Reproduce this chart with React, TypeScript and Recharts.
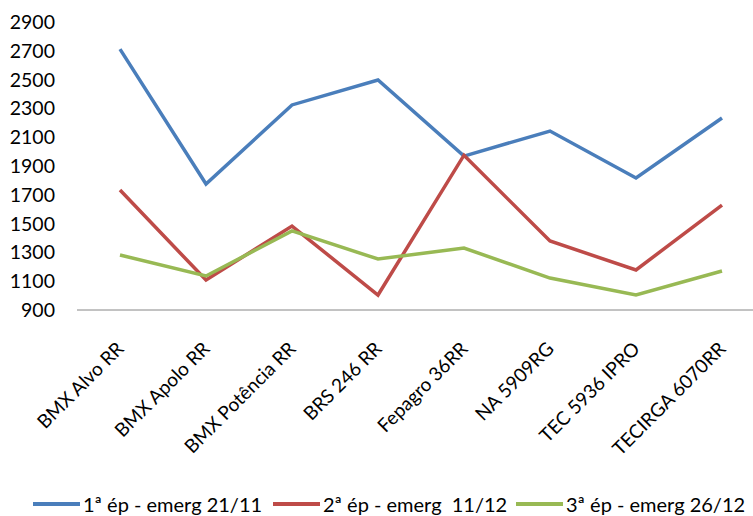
import React from "react";
import { LineChart, Line, XAxis, YAxis, Legend } from "recharts";

const categories = [
  "BMX Alvo RR",
  "BMX Apolo RR",
  "BMX Potência RR",
  "BRS 246 RR",
  "Fepagro 36RR",
  "NA 5909RG",
  "TEC 5936 IPRO",
  "TECIRGA 6070RR",
];
const serie1 = [2712, 1775, 2324, 2497, 1969, 2143, 1817, 2233];
const serie2 = [1733, 1108, 1483, 1004, 1975, 1379, 1178, 1629];
const serie3 = [1282, 1136, 1449, 1254, 1330, 1122, 1004, 1171];
const yTicks = [900, 1100, 1300, 1500, 1700, 1900, 2100, 2300, 2500, 2700, 2900];
const seriesNames = [
  "1ª ép - emerg 21/11",
  "2ª ép - emerg  11/12",
  "3ª ép - emerg 26/12",
];
const colors = ["#4A7EBB", "#BE4B48", "#98B954"];
const legendLineX = [33, 273, 516];

const data = categories.map((c, i) => ({
  name: c,
  s1: serie1[i],
  s2: serie2[i],
  s3: serie3[i],
}));

const FONT = "Lato, 'Open Sans', sans-serif";

const XTick = (props: any) => {
  const { x, y, payload } = props;
  const ax = x + 5;
  const ay = y + 38;
  return (
    <text
      x={ax}
      y={ay}
      textAnchor="end"
      transform={`rotate(-45, ${ax}, ${ay})`}
      fontSize={19}
      fontFamily={FONT}
      fill="#000"
    >
      {payload.value}
    </text>
  );
};

const LegendContent = () => (
  <div
    style={{
      position: "relative",
      width: 753,
      height: 24,
      fontFamily: FONT,
      fontSize: 20,
      lineHeight: "24px",
      color: "#000",
      whiteSpace: "pre",
    }}
  >
    {seriesNames.map((n, i) => (
      <div
        key={n}
        style={{
          position: "absolute",
          left: legendLineX[i],
          top: 0,
          display: "flex",
          alignItems: "center",
          height: 24,
        }}
      >
        <div style={{ width: 47, height: 4, background: colors[i], marginRight: 3 }} />
        <span>{n}</span>
      </div>
    ))}
  </div>
);

export default function App() {
  return (
    <div
      style={{
        position: "absolute",
        left: 0,
        top: 0,
        width: 753,
        height: 516,
        overflow: "hidden",
        background: "#fff",
      }}
    >
      <LineChart
        width={780}
        height={516}
        data={data}
        margin={{ top: 22, right: 15, left: 0, bottom: 0 }}
      >
        <XAxis
          dataKey="name"
          height={182}
          interval={0}
          padding={{ left: 43, right: 43 }}
          tickLine={false}
          tickSize={0}
          axisLine={{ stroke: "#868686", strokeWidth: 1 }}
          tick={<XTick />}
        />
        <YAxis
          width={77}
          domain={[900, 2900]}
          ticks={yTicks}
          interval={0}
          axisLine={false}
          tickLine={false}
          tickSize={0}
          tickMargin={22}
          tick={{ fontSize: 19.5, fontFamily: FONT, fill: "#000" }}
        />
        <Legend
          content={<LegendContent />}
          wrapperStyle={{ position: "absolute", left: 0, top: 492, width: 753, height: 24 }}
        />
        <Line dataKey="s1" name={seriesNames[0]} stroke={colors[0]} strokeWidth={3.5} dot={false} isAnimationActive={false} />
        <Line dataKey="s2" name={seriesNames[1]} stroke={colors[1]} strokeWidth={3.5} dot={false} isAnimationActive={false} />
        <Line dataKey="s3" name={seriesNames[2]} stroke={colors[2]} strokeWidth={3.5} dot={false} isAnimationActive={false} />
      </LineChart>
    </div>
  );
}
